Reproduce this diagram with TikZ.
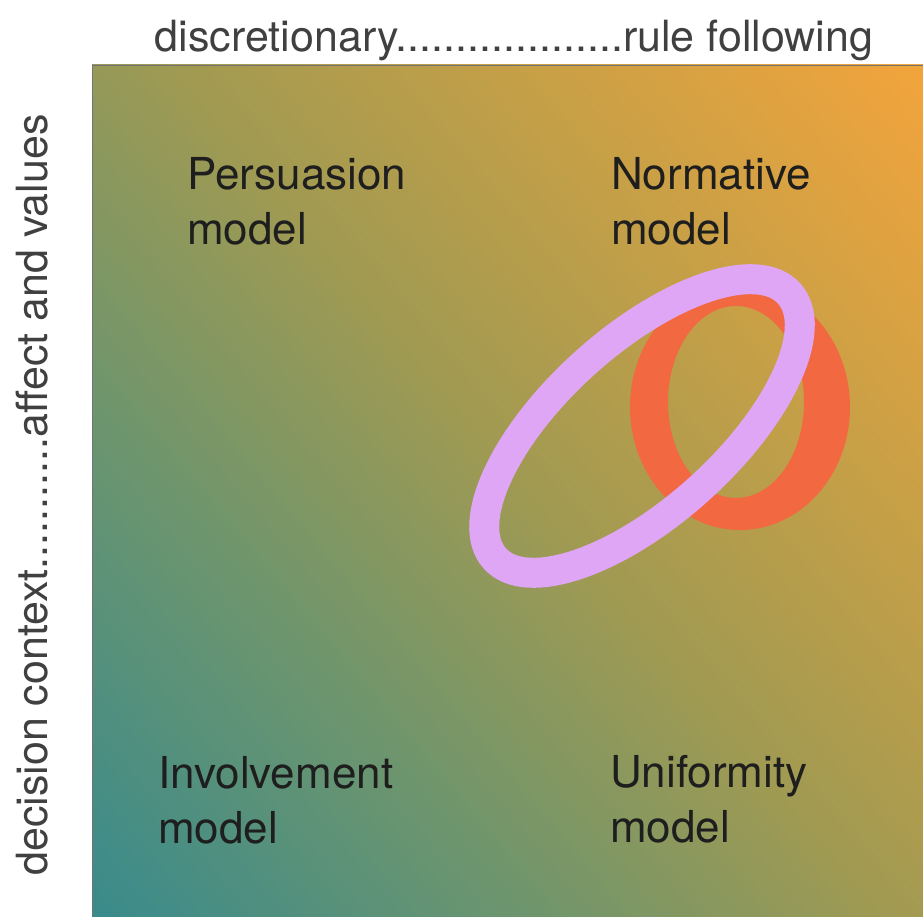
\documentclass[tikz,border=0pt]{standalone}
\usepackage{fontspec}
\setmainfont{TeX Gyre Heros}
\definecolor{cTeal}{HTML}{3A8B8C}
\definecolor{cGreen}{HTML}{6C956E}
\definecolor{cMid}{HTML}{A09A52}
\definecolor{cGold}{HTML}{C9A046}
\definecolor{cOrange}{HTML}{F2A43C}
\definecolor{ringPurple}{HTML}{DEA6F4}
\definecolor{ringRed}{HTML}{F26840}
\definecolor{txt}{HTML}{1E1E1E}
\pgfdeclarehorizontalshading{diagbg}{100bp}{color(0bp)=(cTeal); color(15bp)=(cTeal); color(34bp)=(cGreen); color(51bp)=(cMid); color(68bp)=(cGold); color(85bp)=(cOrange); color(100bp)=(cOrange)}
\tikzset{
  axislabel/.style={font=\fontsize{43}{52}\selectfont, text=txt!85, inner sep=0pt},
  modellabel/.style={font=\fontsize{44}{55}\selectfont, text=txt, inner sep=0pt, align=left, anchor=base west},
}
\begin{document}
\begin{tikzpicture}[x=1pt,y=1pt]
\useasboundingbox (0,0) rectangle (923,916);
\fill[white] (0,0) rectangle (923,916);
% background square
\shade[shading=diagbg, shading angle=40] (92,0) rectangle (923,851);
\draw[black!55, line width=1.2pt] (92.6,0) -- (92.6,850.4) -- (923,850.4);
% axis labels
\node[axislabel, anchor=base] (top) at (514,864) {discretionary...................rule following};
\node[axislabel, anchor=base, rotate=90] (side) at (47,421) {decision context...........affect and values};
% model labels (anchor at baseline of second line)
\node[modellabel] (pers) at (187,671) {Persuasion\\model};
\node[modellabel] (norm) at (611,671) {Normative\\model};
\node[modellabel] (invo) at (158,73) {Involvement\\model};
\node[modellabel] (unif) at (610,74) {Uniformity\\model};
% rings
\fill[ringRed, even odd rule] (740,509) ellipse [x radius=110, y radius=123]
  (736,514) ellipse [x radius=68, y radius=96];
\draw[ringPurple, line width=30pt] (642,490) ellipse [x radius=198, y radius=85, rotate=42];
\end{tikzpicture}
\end{document}
